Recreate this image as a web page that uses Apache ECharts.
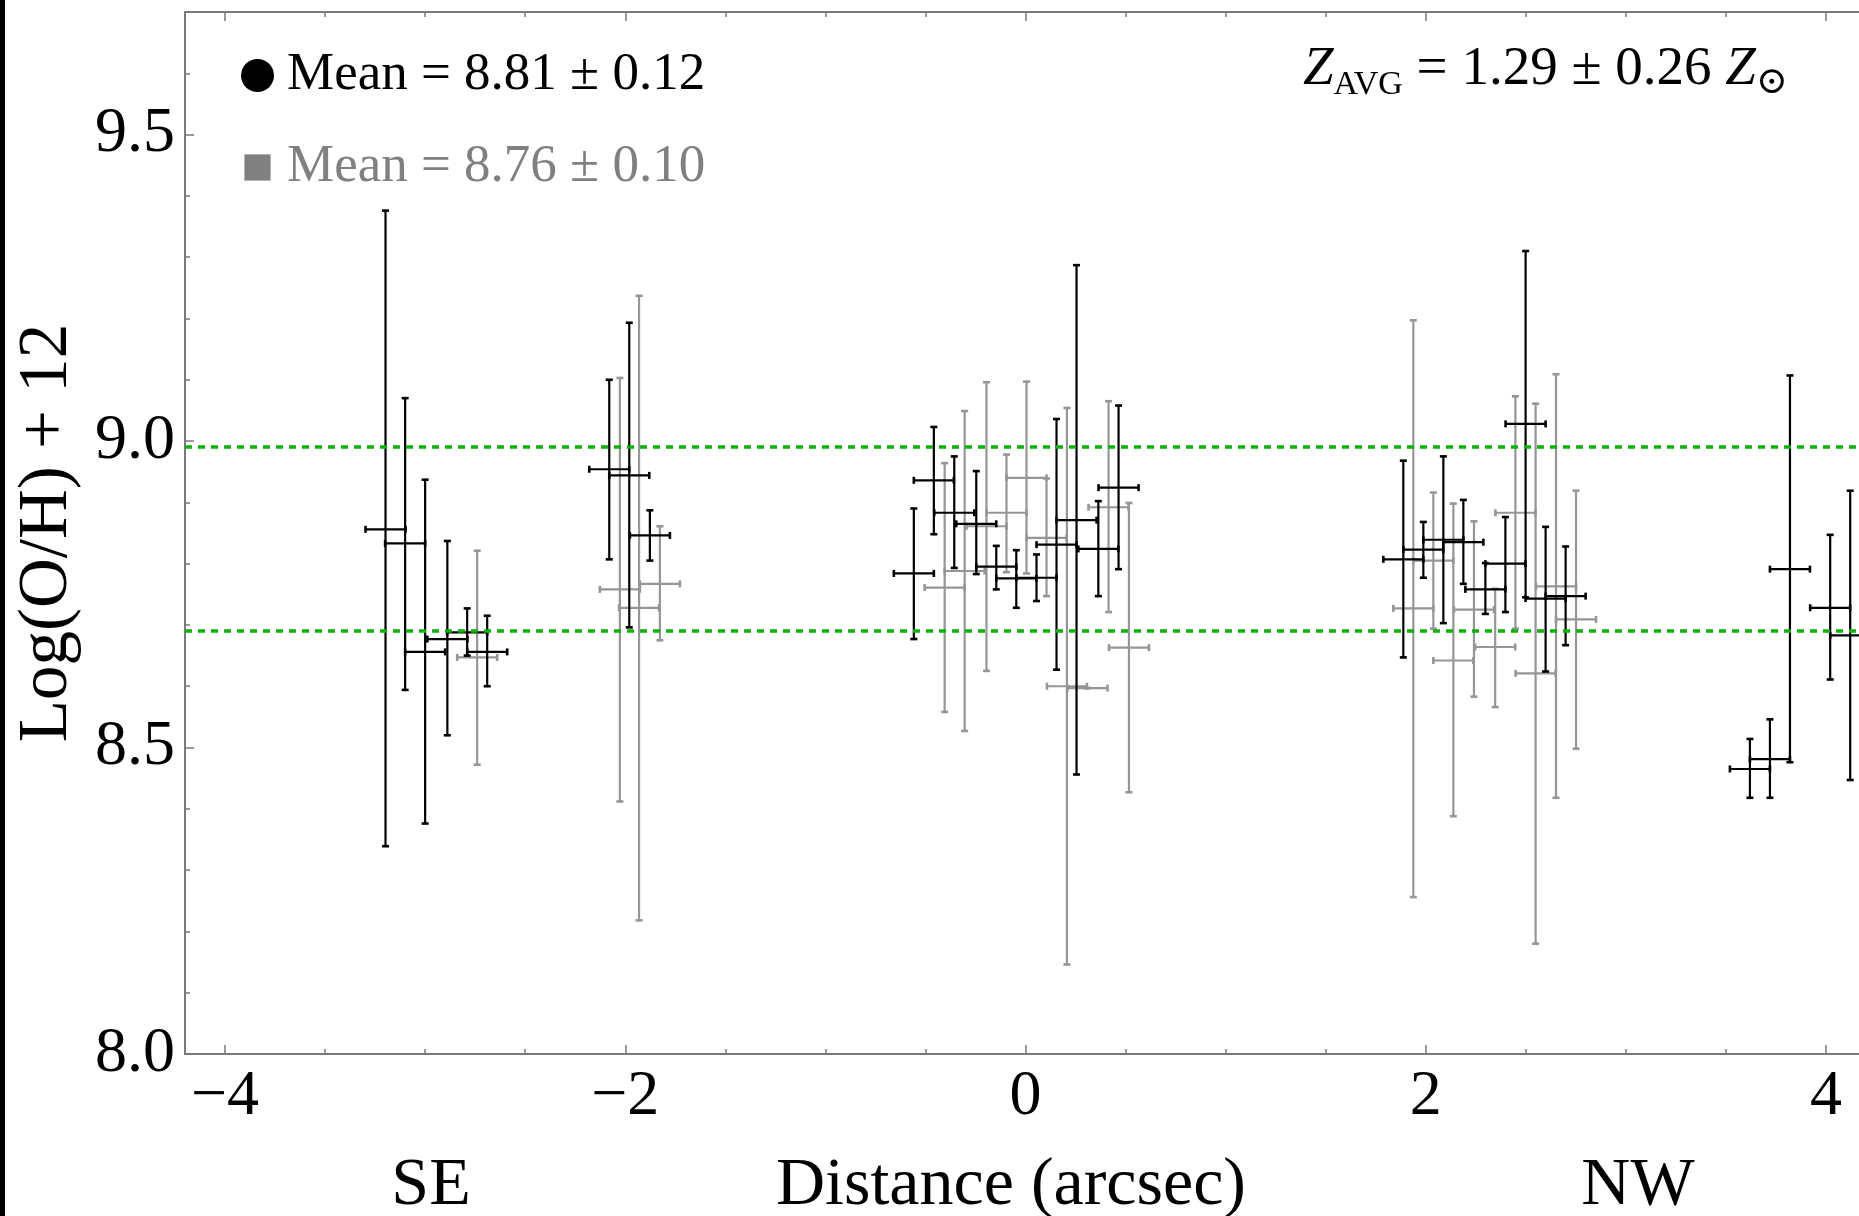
<!DOCTYPE html>
<html>
<head>
<meta charset="utf-8">
<script src="https://cdn.jsdelivr.net/npm/echarts@6/dist/echarts.min.js"></script>
<style>
html,body{margin:0;padding:0;background:#fff;}
#chart{width:1859px;height:1216px;}
</style>
</head>
<body>
<div id="chart"></div>
<script>
// ---------------- DATA ----------------
// Black series (circle): distance (arcsec), log(O/H)+12, lower bound, upper bound
const blackX  = [-3.198,-3.100,-3.000,-2.889,-2.790,-2.690, -2.080,-1.980,-1.877,
                 -0.558,-0.458,-0.356,-0.246,-0.146,-0.046,0.055,0.155,0.255,0.364,0.465,
                 1.888,1.988,2.088,2.188,2.298,2.398,2.499,2.599,2.699,
                 3.620,3.720,3.820,4.021,4.121];
const blackY  = [8.856,8.833,8.656,8.677,8.688,8.656, 8.954,8.944,8.846,
                 8.784,8.936,8.883,8.865,8.795,8.776,8.777,8.831,8.871,8.824,8.924,
                 8.807,8.823,8.839,8.835,8.758,8.800,9.028,8.743,8.747,
                 8.465,8.481,8.791,8.728,8.683];
const blackLo = [8.339,8.594,8.376,8.520,8.650,8.600, 8.807,8.696,8.805,
                 8.677,8.848,8.793,8.783,8.758,8.728,8.739,8.627,8.456,8.747,8.791,
                 8.647,8.777,8.703,8.767,8.718,8.721,8.745,8.624,8.667,
                 8.418,8.418,8.476,8.611,8.447];
const blackHi = [9.376,9.070,8.937,8.837,8.727,8.715, 9.100,9.193,8.887,
                 8.890,9.023,8.975,8.951,8.829,8.822,8.815,9.036,9.287,8.902,9.058,
                 8.968,8.868,8.975,8.904,8.801,8.876,9.310,8.860,8.828,
                 8.514,8.546,9.107,8.847,8.919];
// Gray series (square)
const grayX  = [-2.740, -2.027,-1.931,-1.827,
                -0.404,-0.304,-0.195,-0.095,0.005,0.105,0.207,0.310,0.415,0.517,
                1.938,2.038,2.138,2.241,2.347,2.448,2.549,2.651,2.751];
const grayY  = [8.647, 8.758,8.728,8.767,
                8.761,8.788,8.861,8.883,8.940,8.842,8.600,8.597,8.892,8.663,
                8.727,8.805,8.642,8.725,8.664,8.883,8.621,8.763,8.709];
const grayLo = [8.472, 8.412,8.218,8.675,
                8.558,8.527,8.625,8.786,8.784,8.747,8.146,8.597,8.721,8.427,
                8.256,8.694,8.388,8.583,8.566,8.694,8.180,8.418,8.498];
const grayHi = [8.821, 9.103,9.237,8.861,
                8.964,9.049,9.096,8.978,9.097,8.939,9.054,8.597,9.065,8.899,
                9.197,8.916,8.898,8.869,8.759,9.073,9.061,9.109,8.919];
const xHalfWidth = 0.1;           // horizontal error (arcsec)
const refLines = [8.69, 8.99];    // green dashed reference levels
const legendNames = ['Mean = 8.81 ± 0.12', 'Mean = 8.76 ± 0.10'];
const xMajorTicks = [-4, -2, 0, 2, 4];
const xMinorTicks = [-4,-3.5,-3,-2.5,-2,-1.5,-1,-0.5,0,0.5,1,1.5,2,2.5,3,3.5,4];
const yMajorTicks = [8.0, 8.5, 9.0, 9.5];
const yMinorTicks = [8.0,8.1,8.2,8.3,8.4,8.5,8.6,8.7,8.8,8.9,9.0,9.1,9.2,9.3,9.4,9.5,9.6];

// ---------------- CHART ----------------
const FONT = "'Liberation Serif', 'DejaVu Serif', serif";
const frameColor = '#7a7a7a';
const chart = echarts.init(document.getElementById('chart'), null, {renderer: 'canvas'});

function renderErr(params, api) {
  const x = api.value(0), y = api.value(1), lo = api.value(2), hi = api.value(3), xe = api.value(4);
  const top = api.coord([x, hi]);
  const bot = api.coord([x, lo]);
  const l = api.coord([x - xe, y]);
  const r = api.coord([x + xe, y]);
  const col = api.visual('color');
  const st = {stroke: col, lineWidth: 2.2};
  const cst = {stroke: col, lineWidth: 2.6};
  const cap = 3.5;
  const seg = (x1, y1, x2, y2, s) => ({type: 'line', shape: {x1, y1, x2, y2}, style: s});
  return {
    type: 'group',
    children: [
      seg(top[0], top[1], bot[0], bot[1], st),
      seg(top[0] - cap, top[1], top[0] + cap, top[1], cst),
      seg(bot[0] - cap, bot[1], bot[0] + cap, bot[1], cst),
      seg(l[0], l[1], r[0], r[1], st),
      seg(l[0], l[1] - cap, l[0], l[1] + cap, cst),
      seg(r[0], r[1] - cap, r[0], r[1] + cap, cst)
    ]
  };
}

const blackData = blackX.map((x, i) => [x, blackY[i], blackLo[i], blackHi[i], xHalfWidth]);
const grayData = grayX.map((x, i) => [x, grayY[i], grayLo[i], grayHi[i], xHalfWidth]);

const xCommon = {type: 'value', min: -4.2, max: 4.2, gridIndex: 0, splitLine: {show: false}};
const yCommon = {type: 'value', min: 8.0, max: 9.7, gridIndex: 0, splitLine: {show: false}};

const option = {
  animation: false,
  backgroundColor: '#ffffff',
  grid: {left: 185, right: -7, top: 12, bottom: 162, containLabel: false, outerBoundsMode: 'none'},
  title: {
    left: 1303, top: 38, padding: 0,
    text: '{zi|Z}{sub|AVG}{n| = 1.29 ± 0.26 }{zi|Z}{sun|⊙}',
    textStyle: {
      fontWeight: 'normal',
      rich: {
        zi:  {fontFamily: FONT, fontStyle: 'italic', fontWeight: 'normal', fontSize: 55, lineHeight: 64, color: '#000'},
        n:   {fontFamily: FONT, fontWeight: 'normal', fontSize: 55, lineHeight: 64, color: '#000'},
        sub: {fontFamily: FONT, fontWeight: 'normal', fontSize: 34, lineHeight: 32, verticalAlign: 'bottom', color: '#000'},
        sun: {fontFamily: FONT, fontWeight: 'normal', fontSize: 38, lineHeight: 26, verticalAlign: 'bottom', color: '#000'}
      }
    }
  },
  legend: {
    orient: 'vertical', left: 241, top: 49, padding: 0,
    itemWidth: 49, itemHeight: 33, itemGap: 39,
    selectedMode: false,
    textStyle: {fontFamily: FONT, fontSize: 53, color: '#000'},
    data: [
      {name: legendNames[0], icon: 'circle', itemStyle: {color: '#000'}, textStyle: {color: '#000'}},
      {name: legendNames[1], icon: 'path://M0,0M34,34M3.5,3.5L30.5,3.5L30.5,30.5L3.5,30.5Z',
       itemStyle: {color: '#808080'}, textStyle: {color: '#808080'}}
    ]
  },
  xAxis: [
    Object.assign({}, xCommon, {
      position: 'bottom',
      axisLine: {show: true, onZero: false, lineStyle: {color: frameColor, width: 2}},
      axisTick: {show: true, inside: true, length: 9, customValues: xMajorTicks, lineStyle: {color: frameColor, width: 1.5}},
      axisLabel: {
        customValues: xMajorTicks, margin: 11,
        fontFamily: FONT, fontSize: 64, lineHeight: 64, color: '#000',
        formatter: v => (v < 0 ? '\u2212' + Math.abs(v) : String(v))
      },
      name: '{a|SE}{b|Distance (arcsec)}{c|NW}',
      nameLocation: 'middle', nameGap: 100,
      nameTextStyle: {
        padding: [0, 0, 0, 65],
        rich: {
          a: {width: 262, align: 'center', fontFamily: FONT, fontSize: 68, lineHeight: 64, color: '#000'},
          b: {width: 898, align: 'center', fontFamily: FONT, fontSize: 68, lineHeight: 64, color: '#000'},
          c: {width: 356, align: 'center', fontFamily: FONT, fontSize: 68, lineHeight: 64, color: '#000'}
        }
      }
    }),
    Object.assign({}, xCommon, {
      position: 'bottom',
      axisLine: {show: false, onZero: false},
      axisTick: {show: true, inside: true, length: 5, customValues: xMinorTicks, lineStyle: {color: frameColor, width: 1.5}},
      axisLabel: {show: false}
    }),
    Object.assign({}, xCommon, {
      position: 'top',
      axisLine: {show: true, onZero: false, lineStyle: {color: frameColor, width: 2}},
      axisTick: {show: true, inside: true, length: 9, customValues: xMajorTicks, lineStyle: {color: frameColor, width: 1.5}},
      axisLabel: {show: false}
    }),
    Object.assign({}, xCommon, {
      position: 'top',
      axisLine: {show: false, onZero: false},
      axisTick: {show: true, inside: true, length: 5, customValues: xMinorTicks, lineStyle: {color: frameColor, width: 1.5}},
      axisLabel: {show: false}
    })
  ],
  yAxis: [
    Object.assign({}, yCommon, {
      position: 'left',
      axisLine: {show: true, onZero: false, lineStyle: {color: frameColor, width: 2}},
      axisTick: {show: true, inside: true, length: 9, customValues: yMajorTicks, lineStyle: {color: frameColor, width: 1.5}},
      axisLabel: {
        customValues: yMajorTicks, margin: 10,
        fontFamily: FONT, fontSize: 64, color: '#000',
        formatter: v => v.toFixed(1)
      },
      name: 'Log(O/H) + 12',
      nameLocation: 'middle', nameGap: 104, nameRotate: 90,
      nameTextStyle: {fontFamily: FONT, fontSize: 69, lineHeight: 66, color: '#000'}
    }),
    Object.assign({}, yCommon, {
      position: 'left',
      axisLine: {show: false, onZero: false},
      axisTick: {show: true, inside: true, length: 5, customValues: yMinorTicks, lineStyle: {color: frameColor, width: 1.5}},
      axisLabel: {show: false}
    })
  ],
  series: [
    {
      name: legendNames[1],
      type: 'custom',
      xAxisIndex: 0, yAxisIndex: 0,
      renderItem: renderErr,
      itemStyle: {color: '#969696'},
      encode: {x: 0, y: 1},
      data: grayData,
      z: 2,
      markLine: {
        silent: true, symbol: ['none', 'none'],
        label: {show: false},
        lineStyle: {color: '#0db10d', width: 3.5, type: [7, 6]},
        data: refLines.map(v => ({yAxis: v}))
      }
    },
    {
      name: legendNames[0],
      type: 'custom',
      xAxisIndex: 0, yAxisIndex: 0,
      renderItem: renderErr,
      itemStyle: {color: '#000000'},
      encode: {x: 0, y: 1},
      data: blackData,
      z: 3
    }
  ],
  graphic: [
    {type: 'rect', left: 0, top: 0, shape: {width: 5, height: 1216}, style: {fill: '#000'}, z: 100}
  ]
};
chart.setOption(option);
</script>
</body>
</html>
